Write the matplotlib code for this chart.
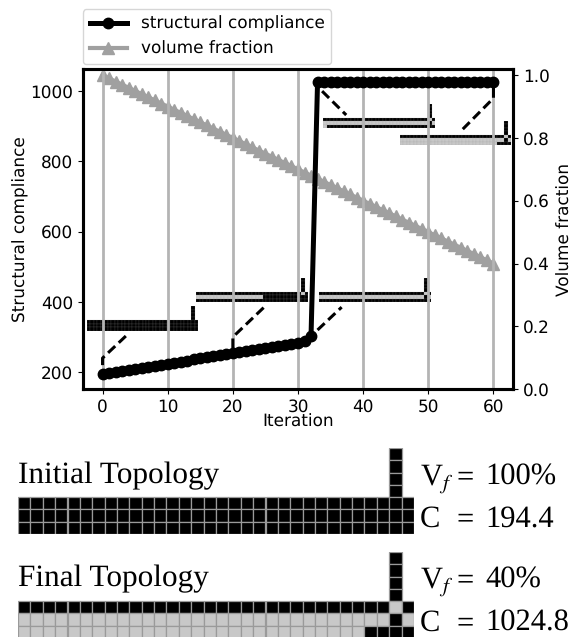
import matplotlib
matplotlib.use("Agg")
import matplotlib.pyplot as plt
from matplotlib.patches import Rectangle

plt.rcParams["font.family"] = ["DejaVu Sans"]
plt.rcParams["mathtext.fontset"] = "stix"
plt.rcParams["text.hinting"] = "none"

W, H = 577, 637

# data
iterations = list(range(61))
compliance = [194.4, 197, 200, 203, 206, 209, 212, 215, 218, 221,
              224, 227, 230, 233, 236, 239, 242, 245, 248, 251,
              254, 257, 260, 263, 266, 269, 272, 275, 278, 281,
              284, 288, 303, 1024.8, 1024.8, 1024.8, 1024.8, 1024.8, 1024.8, 1024.8,
              1024.8, 1024.8, 1024.8, 1024.8, 1024.8, 1024.8, 1024.8, 1024.8, 1024.8, 1024.8,
              1024.8, 1024.8, 1024.8, 1024.8, 1024.8, 1024.8, 1024.8, 1024.8, 1024.8, 1024.8,
              1024.8]
volume = [1.00, 0.99, 0.98, 0.97, 0.96, 0.95, 0.94, 0.93, 0.92, 0.91,
          0.90, 0.89, 0.88, 0.87, 0.86, 0.85, 0.84, 0.83, 0.82, 0.81,
          0.80, 0.79, 0.78, 0.77, 0.76, 0.75, 0.74, 0.73, 0.72, 0.71,
          0.70, 0.69, 0.68, 0.67, 0.66, 0.65, 0.64, 0.63, 0.62, 0.61,
          0.60, 0.59, 0.58, 0.57, 0.56, 0.55, 0.54, 0.53, 0.52, 0.51,
          0.50, 0.49, 0.48, 0.47, 0.46, 0.45, 0.44, 0.43, 0.42, 0.41,
          0.40]

# topologies, # solid, . void, space empty
stub = "                              # "
top_initial = [stub, stub, stub, stub, "#" * 32, "#" * 32, "#" * 32]
top_iter20 = [stub, stub, stub, stub,
              "#" * 30 + ".#",
              "." * 19 + "#" * 13,
              "#" * 32]
top_iter33 = [stub, stub, stub, stub,
              "#" * 30 + ".#",
              "." * 30 + "#.",
              "#" * 32]
top_iter50 = [stub, stub, stub, stub,
              "#" * 30 + ".#",
              "." * 30 + "#.",
              "." + "#" * 31]
top_final = [stub, stub, stub, stub,
             "#" * 30 + ".#",
             "." * 30 + "#.",
             "." * 28 + "####"]

# dashed connectors from curve to small topologies (iteration, compliance)
conn_x = [[0, 0, 3.7], [20, 20, 24.8], [33, 36.7], [33.7, 37.4], [60, 60, 55.2]]
conn_y = [[220, 240, 305], [268, 300, 385], [320, 385], [1000, 932], [1009, 980, 890]]

fig = plt.figure(figsize=(W / 100, H / 100), dpi=100)


def px_axes(x0, y0, x1, y1):
    return fig.add_axes([x0 / W, 1 - y1 / H, (x1 - x0) / W, (y1 - y0) / H])


def draw_topology(rows, x0, y0, x1, y1, lw):
    a = px_axes(x0, y0, x1, y1)
    a.set_xlim(0, len(rows[0]))
    a.set_ylim(len(rows), 0)
    for j, row in enumerate(rows):
        for i, c in enumerate(row):
            if c == " ":
                continue
            a.add_patch(Rectangle((i, j), 1, 1, facecolor="black" if c == "#" else "#c8c8c8",
                                  edgecolor="#9a9a9a", linewidth=lw))
    a.axis("off")
    return a


ax = px_axes(83, 69, 513, 389)
ax2 = ax.twinx()
ax.set_zorder(ax2.get_zorder() + 1)
ax.patch.set_visible(False)

l2, = ax2.plot(iterations, volume, color="#a0a0a0", lw=3, marker="^", ms=8, label="volume fraction")
l1, = ax.plot(iterations, compliance, color="black", lw=3.6, marker="o", ms=7.5, label="structural compliance")

for xs, ys in zip(conn_x, conn_y):
    ax.plot(xs, ys, color="black", lw=2.2, ls=(0, (3.2, 1.6)))

ax.set_xlim(-3, 63)
ax.set_ylim(152, 1063)
ax2.set_ylim(0, 1.02)
ax.set_xticks([0, 10, 20, 30, 40, 50, 60])
ax.set_yticks([200, 400, 600, 800, 1000])
ax2.set_yticks([0.0, 0.2, 0.4, 0.6, 0.8, 1.0])
ax.xaxis.grid(True, color="#b4b4b4", lw=2)
ax.set_axisbelow(True)
ax.tick_params(labelsize=12.2)
ax2.tick_params(labelsize=12.2)
ax.set_xlabel("Iteration", fontsize=12.2, labelpad=-1)
ax.set_ylabel("Structural compliance", fontsize=12.2, labelpad=1)
ax2.set_ylabel("Volume fraction", fontsize=12.2, labelpad=5)
for a in (ax, ax2):
    for s in a.spines.values():
        s.set_linewidth(2.2)

ax.legend(handles=[l1, l2], loc="lower left", bbox_to_anchor=(0.0, 1.015), borderaxespad=0,
          fontsize=12.2, framealpha=0.8, labelspacing=0.5, handlelength=2.2)

# small topologies on the plot
draw_topology(top_initial, 87, 306, 198, 331, 0.1)
draw_topology(top_iter20, 196, 278, 308, 302, 0.1)
draw_topology(top_iter33, 319, 278, 431, 302, 0.1)
draw_topology(top_iter50, 323, 104, 435, 128, 0.1)
draw_topology(top_final, 400, 121, 511, 145, 0.1)

# large topologies under the plot
draw_topology(top_initial, 18, 448, 414, 534, 0.9)
draw_topology(top_final, 18, 552, 414, 638, 0.9)

serif = "Liberation Serif"
fig.text(18 / W, 1 - 483 / H, "Initial Topology", family=serif, fontsize=22.5)
fig.text(18 / W, 1 - 586 / H, "Final Topology", family=serif, fontsize=22.5)

# right-hand values: symbol, equals sign and number sit in fixed columns
for base, sym, num in [(485, r"V$_f$", "100%"), (527, "C", "194.4"),
                       (588, r"V$_f$", "40%"), (631, "C", "1024.8")]:
    fig.text(420 / W, 1 - base / H, sym, family=serif, fontsize=22)
    fig.text(456 / W, 1 - base / H, "=", family=serif, fontsize=22)
    fig.text(485 / W, 1 - base / H, num, family=serif, fontsize=22)

fig.savefig("out.png", dpi=100)
